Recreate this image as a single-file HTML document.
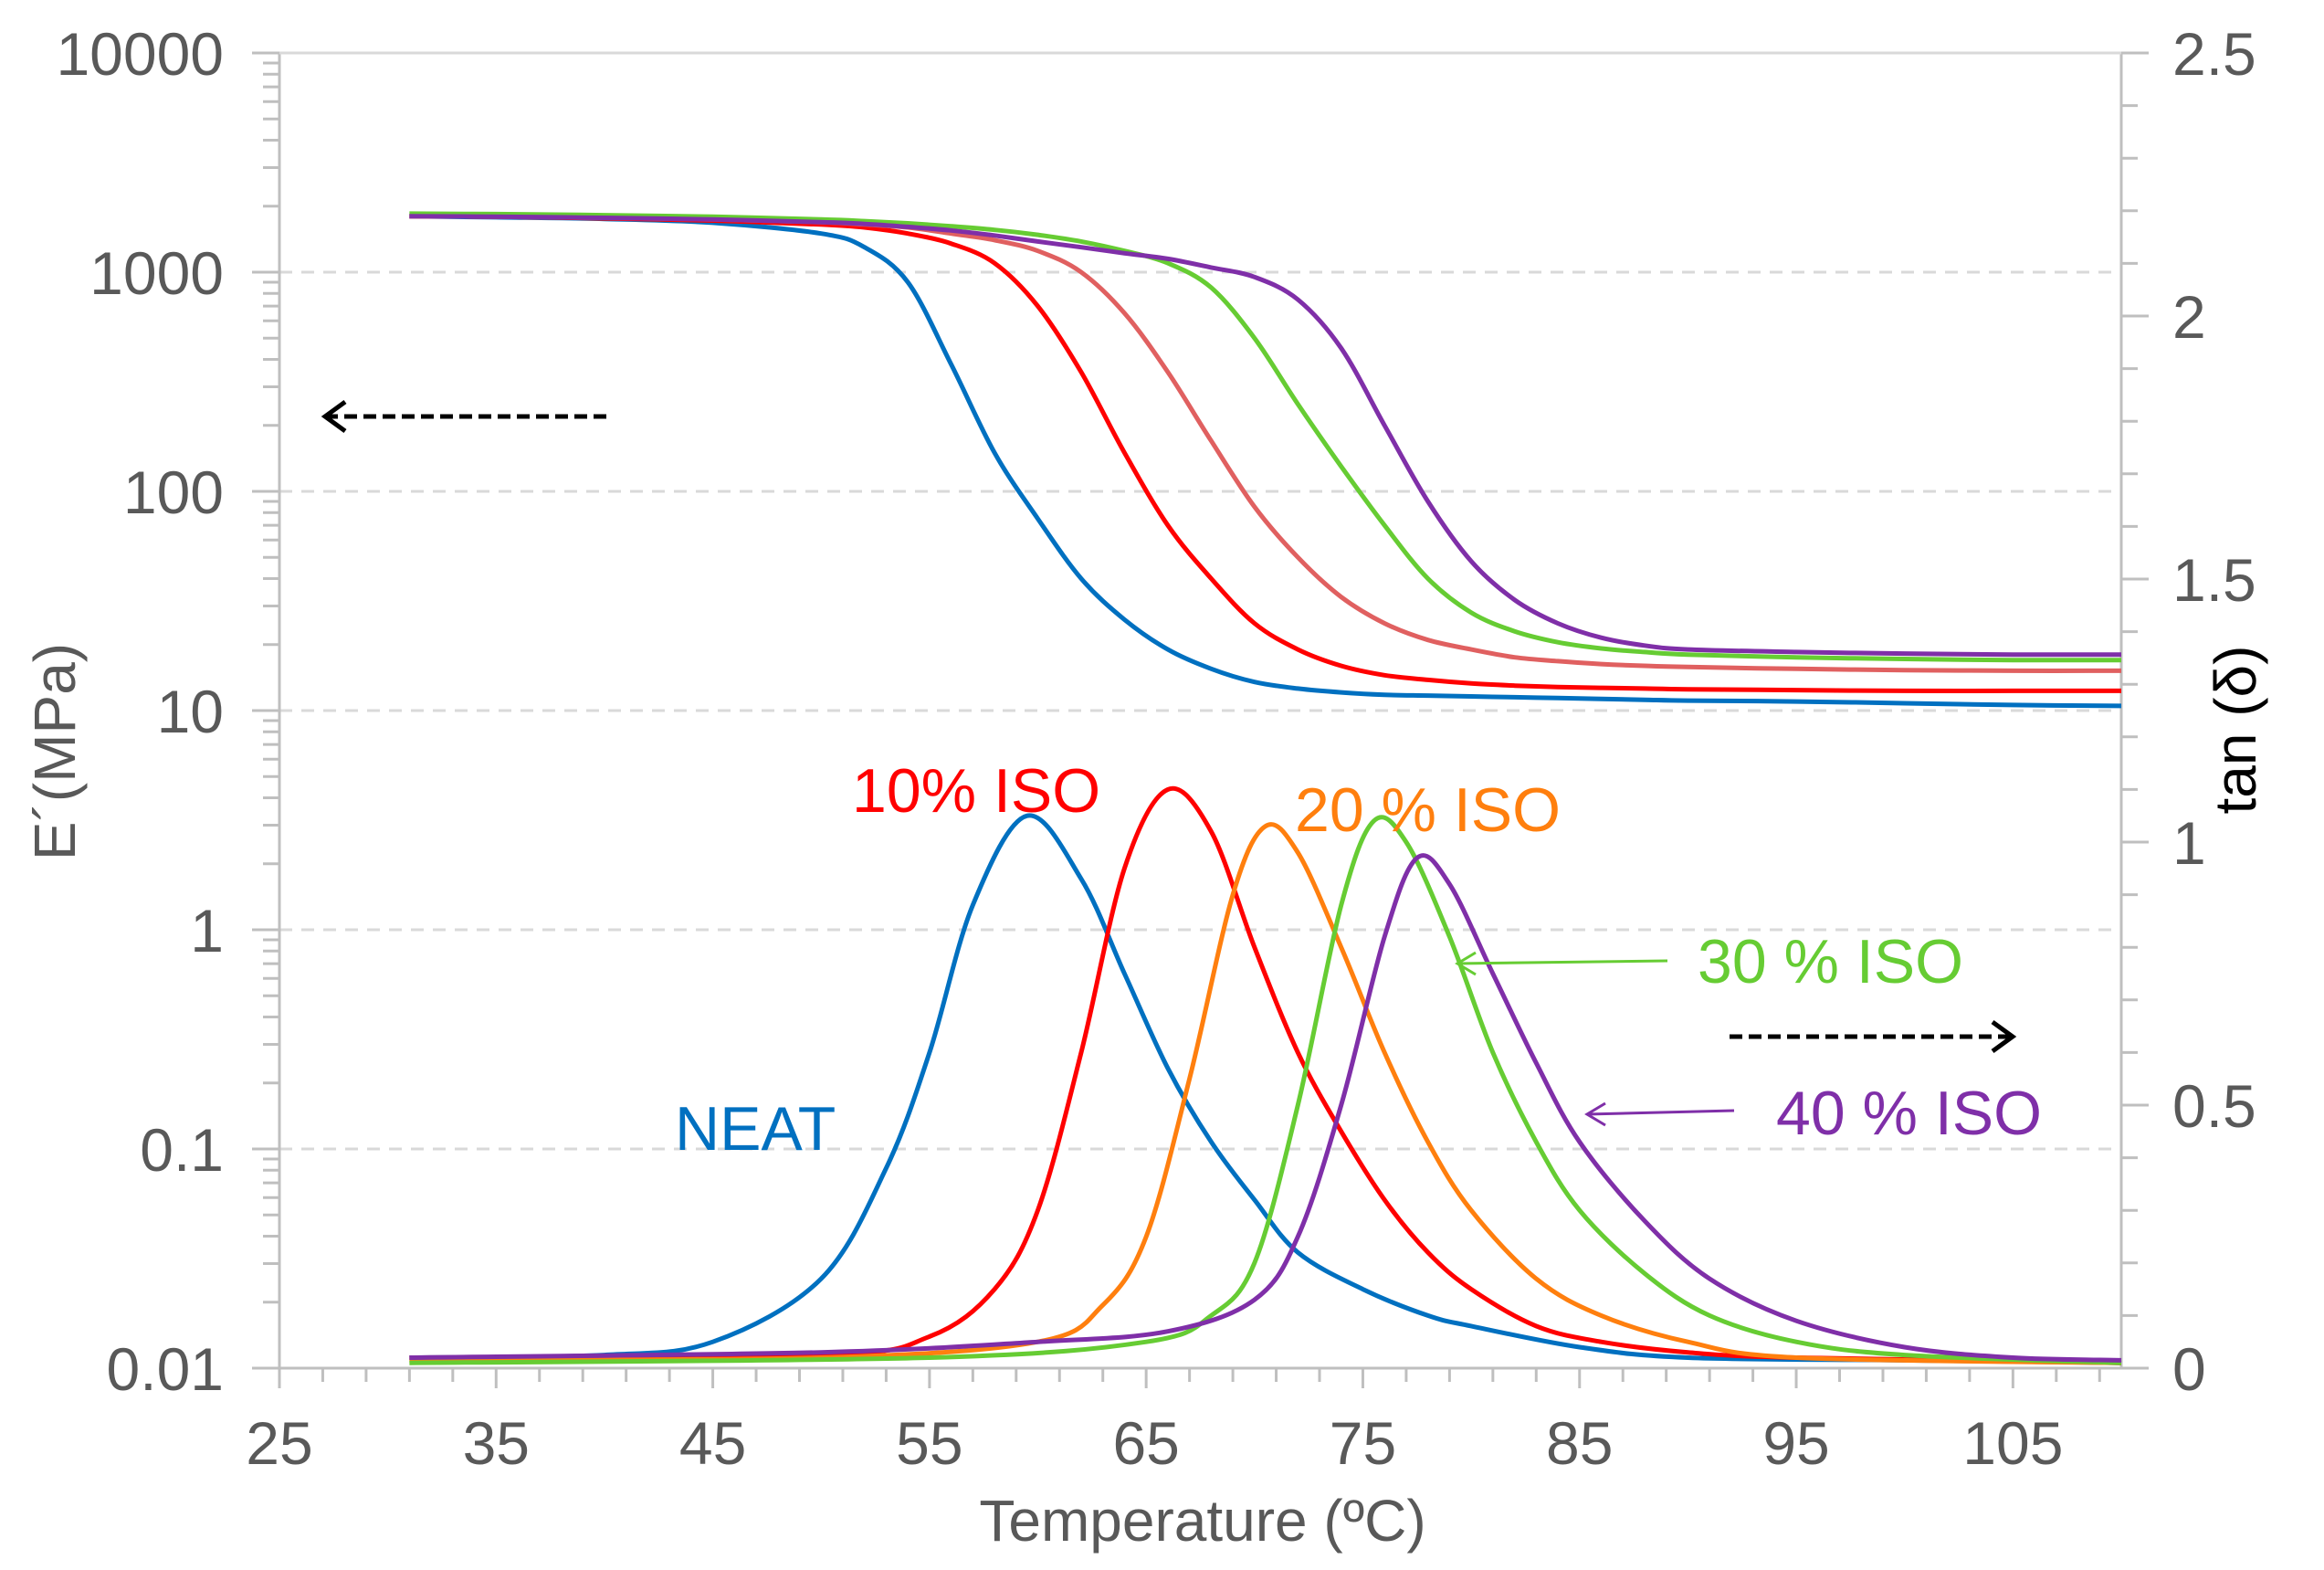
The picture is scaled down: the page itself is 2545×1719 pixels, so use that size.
<!DOCTYPE html>
<html><head><meta charset="utf-8"><style>
html,body{margin:0;padding:0;background:#fff;}
svg{display:block;font-family:"Liberation Sans",sans-serif;}
</style></head><body>
<svg id="chart" width="2545" height="1719" viewBox="0 0 2545 1719" xmlns="http://www.w3.org/2000/svg">
<g id="grid"></g>
<g id="axes"></g>
<g id="series"></g>
<g font-size="68">
  <text x="933" y="889" fill="#ff0000">10% ISO</text>
  <text x="1418" y="910" fill="#ff7f0e">20 % ISO</text>
  <text x="1859" y="1076" fill="#66cc33">30 % ISO</text>
  <text x="1945" y="1242" fill="#7f2fa8">40 % ISO</text>
  <text x="739" y="1259" fill="#0070c0">NEAT</text>
  <g stroke="#66cc33" stroke-width="3" fill="none">
    <line x1="1826" y1="1052" x2="1596" y2="1055"/><polyline points="1616,1043 1596,1055 1616,1067"/></g>
  <g stroke="#7f2fa8" stroke-width="3" fill="none">
    <line x1="1899" y1="1216" x2="1738" y2="1220"/><polyline points="1758,1208 1738,1220 1758,1232"/></g>
  <g stroke="#000" stroke-width="5" fill="none">
    <line x1="664" y1="456" x2="358" y2="456" stroke-dasharray="14,7"/><polyline points="378,440 356,456 378,472"/></g>
  <g stroke="#000" stroke-width="5" fill="none">
    <line x1="1894" y1="1135" x2="2200" y2="1135" stroke-dasharray="14,7"/><polyline points="2182,1119 2204,1135 2182,1151"/></g>
</g>
<g font-size="64" fill="#595959">
  <text x="1317" y="1687" text-anchor="middle">Temperature (ºC)</text>
  <text transform="translate(82,823) rotate(-90)" text-anchor="middle">E´(MPa)</text>
  <text transform="translate(2470,799) rotate(-90)" text-anchor="middle" fill="#000">tan (δ)</text>
</g>
</svg>
<script>
const xTicks=[25,35,45,55,65,75,85,95,105];
const yLeftTicks=[0.01,0.1,1,10,100,1000,10000];
const yLeftLabels=["0.01","0.1","1","10","100","1000","10000"];
const yRightTicks=[0,0.5,1,1.5,2,2.5];
const yRightLabels=["0","0.5","1","1.5","2","2.5"];

const eTemps=[31,35,40,45,50,52,54,56,58,60,62,64,66,68,70,72,74,76,78,80,82,84,86,88,90,95,100,105,110];
const eNeat=[1800,1780,1750,1680,1500,1300,900,380,150,75,40,26,19,15.5,13.5,12.6,12.1,11.8,11.7,11.6,11.5,11.4,11.3,11.2,11.1,11,10.8,10.6,10.5];
const e10=[1800,1790,1760,1720,1650,1600,1500,1350,1100,700,350,150,70,40,25,19,16,14.5,13.8,13.3,13,12.8,12.7,12.6,12.5,12.4,12.3,12.3,12.3];
const e20=[1800,1790,1770,1740,1690,1650,1600,1500,1400,1250,1000,650,350,170,85,50,33,25,21,19,17.5,16.8,16.3,16,15.8,15.5,15.3,15.2,15.2];
const e30=[1850,1840,1820,1790,1740,1710,1670,1620,1560,1480,1380,1250,1100,850,500,250,130,70,40,28,23,20.5,19.2,18.5,18,17.5,17.2,17,17];
const e40=[1800,1790,1770,1740,1690,1660,1610,1550,1470,1380,1300,1220,1150,1050,950,750,450,200,90,48,32,25,21.5,19.8,19,18.5,18.2,18,18];

const tNeatT=[31,40,45,50,53,55,57,59.5,62,64,66,68,70,72,75,78,80,85,90,100,110];
const tNeatV=[0.02,0.025,0.05,0.17,0.38,0.6,0.88,1.05,0.93,0.75,0.57,0.43,0.32,0.22,0.15,0.1,0.08,0.04,0.02,0.015,0.01];
const t10T=[31,50,55,58,60,62,64,66,68,70,72,74,76,78,80,83,86,90,95,110];
const t10V=[0.02,0.025,0.06,0.15,0.3,0.6,0.95,1.1,1.02,0.8,0.6,0.45,0.32,0.22,0.15,0.08,0.05,0.03,0.02,0.01];
const t20T=[31,50,60,63,65,67,69,70.5,72,74,76,78,80,83,86,90,95,110];
const t20V=[0.015,0.02,0.05,0.12,0.25,0.55,0.9,1.03,0.98,0.8,0.6,0.43,0.3,0.17,0.1,0.05,0.02,0.01];
const t30T=[31,55,65,68,70,72,74,75.5,77,79,81,83,85,88,91,95,100,110];
const t30V=[0.01,0.02,0.05,0.1,0.2,0.5,0.88,1.04,1.0,0.82,0.6,0.43,0.3,0.18,0.1,0.05,0.025,0.01];
const t40T=[31,50,60,66,70,72,74,76,77.5,79,81,83,85,88,91,95,100,105,110];
const t40V=[0.02,0.03,0.05,0.07,0.13,0.25,0.5,0.82,0.97,0.92,0.75,0.58,0.43,0.28,0.17,0.09,0.04,0.02,0.015];

const X0=306,X1=2323,Y0=58,Y1=1498;
const xs=t=>X0+(t-25)/(110-25)*(X1-X0);
const yL=v=>Y1-(Math.log10(v)+2)/6*(Y1-Y0);
const yR=v=>Y1-v/2.5*(Y1-Y0);
const NS="http://www.w3.org/2000/svg";
function mk(tag,attrs,parent){const e=document.createElementNS(NS,tag);for(const k in attrs)e.setAttribute(k,attrs[k]);parent.appendChild(e);return e;}
const grid=document.getElementById('grid'),axes=document.getElementById('axes'),ser=document.getElementById('series');

yLeftTicks.forEach((v,i)=>{
  if(i>0&&i<yLeftTicks.length-1){const g=mk('line',{x1:X0,x2:X1,y1:yL(v),y2:yL(v),stroke:'#d9d9d9','stroke-width':3,'stroke-dasharray':'14,10'},grid);
  
  }
  const t=mk('text',{x:245,y:yL(v)+24,'text-anchor':'end','font-size':66,fill:'#595959'},axes);t.textContent=yLeftLabels[i];
  
  
  mk('line',{x1:X0-30,x2:X0,y1:yL(v),y2:yL(v),stroke:'#bfbfbf','stroke-width':3},axes);
  if(i<yLeftTicks.length-1){for(let m=2;m<10;m++){const y=yL(v*m);mk('line',{x1:X0-18,x2:X0,y1:y,y2:y,stroke:'#bfbfbf','stroke-width':3},axes);}}
});
yRightTicks.forEach((v,i)=>{
  const t=mk('text',{x:2379,y:yR(v)+24,'font-size':66,fill:'#595959'},axes);t.textContent=yRightLabels[i];
  
  
});
for(let k=0;k<=25;k++){const y=yR(k*0.1);mk('line',{x1:X1,x2:X1+(k%5==0?30:18),y1:y,y2:y,stroke:'#bfbfbf','stroke-width':3},axes);}
xTicks.forEach(v=>{
  const t=mk('text',{x:xs(v),y:1603,'text-anchor':'middle','font-size':66,fill:'#595959'},axes);t.textContent=String(v);
  
  
});
for(let t=25;t<=110;t+=2){const big=(t-25)%10==0;mk('line',{x1:xs(t),x2:xs(t),y1:Y1,y2:Y1+(big?22:15),stroke:'#bfbfbf','stroke-width':3},axes);}
mk('line',{x1:X0,x2:X0,y1:Y0,y2:Y1,stroke:'#bfbfbf','stroke-width':3},axes);
mk('line',{x1:X1,x2:X1,y1:Y0,y2:Y1,stroke:'#bfbfbf','stroke-width':3},axes);
mk('line',{x1:X0,x2:X1,y1:Y1,y2:Y1,stroke:'#bfbfbf','stroke-width':3},axes);
mk('line',{x1:X0,x2:X1,y1:Y0,y2:Y0,stroke:'#d9d9d9','stroke-width':3},axes);

function path(pts){let d='M'+pts[0][0]+','+pts[0][1];
  for(let i=0;i<pts.length-1;i++){const p0=pts[Math.max(0,i-1)],p1=pts[i],p2=pts[i+1],p3=pts[Math.min(pts.length-1,i+2)];
    const c1=[p1[0]+(p2[0]-p0[0])/6,p1[1]+(p2[1]-p0[1])/6],c2=[p2[0]-(p3[0]-p1[0])/6,p2[1]-(p3[1]-p1[1])/6];
    d+=' C'+c1[0].toFixed(1)+','+c1[1].toFixed(1)+' '+c2[0].toFixed(1)+','+c2[1].toFixed(1)+' '+p2[0].toFixed(1)+','+p2[1].toFixed(1);}
  return d;}
function draw(T,V,sy,color,name){
  const p=mk('path',{d:path(T.map((t,i)=>[xs(t),sy(V[i])])),fill:'none',stroke:color,'stroke-width':5,'stroke-linejoin':'round'},ser);
  
  
}
draw(eTemps,eNeat,yL,'#0070c0','modulus-neat');
draw(eTemps,e10,yL,'#ff0000','modulus-10-iso');
draw(eTemps,e20,yL,'#e06060','modulus-20-iso');
draw(eTemps,e30,yL,'#66cc33','modulus-30-iso');
draw(eTemps,e40,yL,'#7f2fa8','modulus-40-iso');
draw(tNeatT,tNeatV,yR,'#0070c0','tan-delta-neat');
draw(t10T,t10V,yR,'#ff0000','tan-delta-10-iso');
draw(t20T,t20V,yR,'#ff7f0e','tan-delta-20-iso');
draw(t30T,t30V,yR,'#66cc33','tan-delta-30-iso');
draw(t40T,t40V,yR,'#7f2fa8','tan-delta-40-iso');
</script>
</body></html>
